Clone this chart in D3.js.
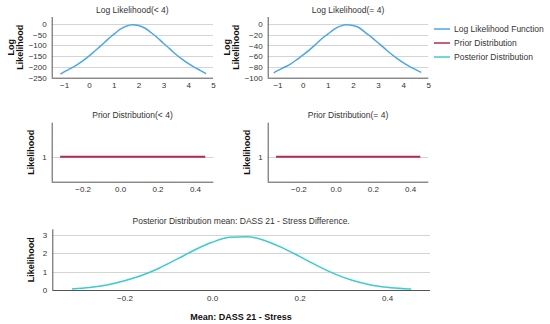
<!DOCTYPE html>
<html>
<head>
<meta charset="utf-8">
<script src="https://cdn.jsdelivr.net/npm/d3@7"></script>
<style>
  body { margin: 0; background: #fff; }
  svg { font-family: "Liberation Sans", Arial, sans-serif; }
  .grid line { stroke: #d4d4d4; }
  .axis path { stroke: #555; }
  .axis text { fill: #333; font-size: 8px; }
</style>
</head>
<body>
<div id="chart"></div>
<script>
// log likelihood, mu grid
var llX = [-1.15, -1, -0.75, -0.5, -0.25, 0, 0.25, 0.5, 0.75, 1, 1.25, 1.5, 1.75, 2, 2.25, 2.5, 2.75, 3, 3.25, 3.5, 3.75, 4, 4.25, 4.5, 4.72];
var llLess = [-233, -223, -208, -192, -172, -150, -125, -100, -73, -49, -26, -11, -4, -7, -19, -40, -63, -90, -115, -141, -164, -184, -202, -217, -231];
var llEqual = [-91, -87, -81, -75, -67, -58, -49, -39, -28, -19, -10, -4, -1.5, -3, -7, -16, -25, -35, -45, -55, -64, -72, -79, -85, -90];

// prior (flat)
var priorX = [-0.32, 0.455];
var priorY = [1, 1];

// posterior
var postX = [-0.32, -0.28, -0.24, -0.2, -0.16, -0.12, -0.08, -0.04, 0, 0.04, 0.08, 0.12, 0.16, 0.2, 0.24, 0.28, 0.32, 0.36, 0.4, 0.44, 0.455];
var postY = [0.05, 0.13, 0.27, 0.5, 0.8, 1.2, 1.68, 2.18, 2.6, 2.87, 2.91, 2.7, 2.31, 1.83, 1.33, 0.88, 0.53, 0.29, 0.15, 0.07, 0.05];

var llXTicks = [-1, 0, 1, 2, 3, 4, 5];
var llLessTicks = [-250, -200, -150, -100, -50, 0];
var llEqualTicks = [-100, -80, -60, -40, -20, 0];
var meanTicks = [-0.2, 0, 0.2, 0.4];
var priorTicks = [1];
var postTicks = [0, 1, 2, 3];

var legendNames = ["Log Likelihood Function", "Prior Distribution", "Posterior Distribution"];
var colors = {"Log Likelihood Function": "#4aa8e6", "Prior Distribution": "#b8284f", "Posterior Distribution": "#3dcccc"};

var w = 550, h = 324;
var svg = d3.select("#chart").append("svg").attr("width", w).attr("height", h);

function zip(xs, ys) {
  return xs.map(function(x, i) { return {x: x, y: ys[i]}; });
}

function panel(o) {
  var x = d3.scaleLinear().domain(o.xDomain).range(o.xRange);
  var y = d3.scaleLinear().domain(o.yDomain).range(o.yRange);
  var g = svg.append("g");

  // grid
  g.append("g").attr("class", "grid")
    .selectAll("line").data(o.yTicks.filter(function(t) { return t != o.yDomain[0]; }))
    .enter().append("line")
    .attr("x1", o.xRange[0]).attr("x2", o.xRange[1])
    .attr("y1", function(d) { return Math.round(y(d)) + 0.5; })
    .attr("y2", function(d) { return Math.round(y(d)) + 0.5; });

  g.append("g").attr("class", "axis")
    .attr("transform", "translate(0," + o.yRange[0] + ")")
    .call(d3.axisBottom(x).tickValues(o.xTicks).tickFormat(o.xFormat).tickSize(0).tickPadding(5))
    .call(function(a) { a.select(".domain").attr("d", "M" + o.xRange[0] + ",0.5H" + o.xRange[1]); });

  g.append("g").attr("class", "axis")
    .attr("transform", "translate(" + o.xRange[0] + ",0)")
    .call(d3.axisLeft(y).tickValues(o.yTicks).tickFormat(d3.format("d")).tickSize(0).tickPadding(5))
    .call(function(a) { a.select(".domain").attr("d", "M0.5," + o.yRange[0] + "V" + o.yRange[1]); });

  var line = d3.line().curve(d3.curveMonotoneX)
    .x(function(d) { return x(d.x); }).y(function(d) { return y(d.y); });

  g.append("path")
    .attr("d", line(o.data))
    .attr("fill", "none")
    .attr("stroke", o.color)
    .attr("stroke-width", o.width || 1.5);

  g.append("text")
    .attr("x", (o.xRange[0] + o.xRange[1]) / 2)
    .attr("y", o.titleY)
    .attr("text-anchor", "middle")
    .style("font-size", "8.5px")
    .attr("fill", "#333")
    .text(o.title);

  var cy = (o.yRange[0] + o.yRange[1]) / 2;
  o.yLabel.forEach(function(s, i) {
    var lx = o.xRange[0] - o.yLabelOff + (i - o.yLabel.length + 1) * 9;
    g.append("text")
      .attr("transform", "translate(" + lx + "," + cy + ") rotate(-90)")
      .attr("text-anchor", "middle")
      .style("font-size", "9px")
      .style("font-weight", "bold")
      .attr("fill", "#111")
      .text(s);
  });
  return {x: x, y: y};
}

var f1 = d3.format(".1f");
var fmtMean = function(d) { return f1(d).replace("-", "\u2212"); };

panel({xDomain: [-1.5, 5], xRange: [51.7, 213], yDomain: [-250, 32], yRange: [77.7, 17],
  xTicks: llXTicks, yTicks: llLessTicks, xFormat: d3.format("d"), data: zip(llX, llLess),
  color: colors["Log Likelihood Function"], title: "Log Likelihood(< 4)", titleY: 13,
  yLabel: ["Log", "Likelihood"], yLabelOff: 29});

panel({xDomain: [-1.39, 5], xRange: [267.7, 428.3], yDomain: [-100, 13], yRange: [77.7, 17],
  xTicks: llXTicks, yTicks: llEqualTicks, xFormat: d3.format("d"), data: zip(llX, llEqual),
  color: colors["Log Likelihood Function"], title: "Log Likelihood(= 4)", titleY: 13,
  yLabel: ["Log", "Likelihood"], yLabelOff: 29});

panel({xDomain: [-0.365, 0.498], xRange: [51.7, 213.3], yDomain: [0.4, 1.82], yRange: [181.7, 122.7],
  xTicks: meanTicks, yTicks: priorTicks, xFormat: fmtMean, data: zip(priorX, priorY),
  color: colors["Prior Distribution"], width: 2, title: "Prior Distribution(< 4)", titleY: 118,
  yLabel: ["Likelihood"], yLabelOff: 18});

panel({xDomain: [-0.365, 0.498], xRange: [267.7, 428.3], yDomain: [0.4, 1.82], yRange: [181.7, 122.7],
  xTicks: meanTicks, yTicks: priorTicks, xFormat: fmtMean, data: zip(priorX, priorY),
  color: colors["Prior Distribution"], width: 2, title: "Prior Distribution(= 4)", titleY: 118,
  yLabel: ["Likelihood"], yLabelOff: 18});

panel({xDomain: [-0.365, 0.498], xRange: [52.3, 430], yDomain: [0, 3.31], yRange: [290, 229.3],
  xTicks: meanTicks, yTicks: postTicks, xFormat: fmtMean, data: zip(postX, postY),
  color: colors["Posterior Distribution"], title: "Posterior Distribution mean: DASS 21 - Stress Difference.", titleY: 224,
  yLabel: ["Likelihood"], yLabelOff: 18});

svg.append("text")
  .attr("x", 241).attr("y", 320)
  .attr("text-anchor", "middle")
  .style("font-size", "9px")
  .style("font-weight", "bold")
  .attr("fill", "#111")
  .text("Mean: DASS 21 - Stress");

// legend
var leg = svg.append("g").selectAll("g").data(legendNames).enter().append("g")
  .attr("transform", function(d, i) { return "translate(434," + (29 + i * 14) + ")"; });
leg.append("line").attr("x1", 0).attr("x2", 16)
  .attr("stroke", function(d) { return colors[d]; }).attr("stroke-width", 1.5);
leg.append("text").attr("x", 20).attr("y", 3)
  .style("font-size", "8.5px").attr("fill", "#333")
  .text(function(d) { return d; });
</script>
</body>
</html>
